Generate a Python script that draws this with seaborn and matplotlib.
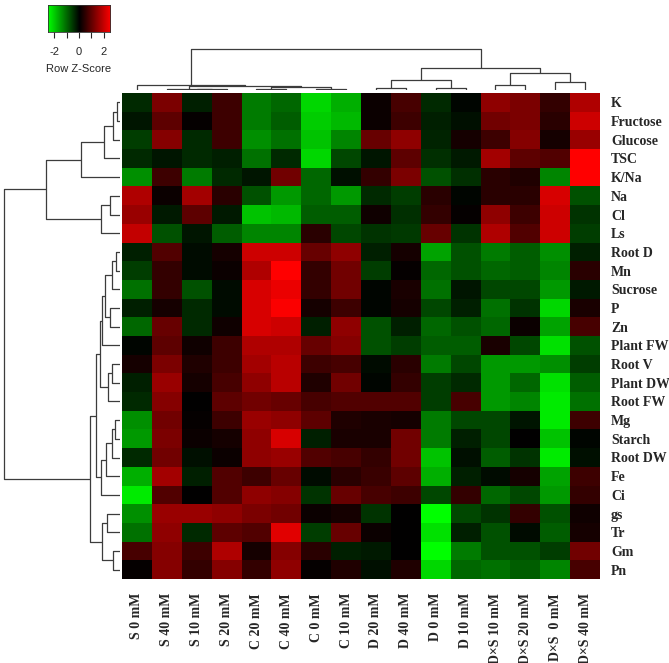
import numpy as np
import pandas as pd
import matplotlib.pyplot as plt
from matplotlib.colors import LinearSegmentedColormap
import seaborn as sns

sns.set_style('white')

samples = ['S 0 mM', 'S 40 mM', 'S 10 mM', 'S 20 mM', 'C 20 mM', 'C 40 mM',
           'C 0 mM', 'C 10 mM', 'D 20 mM', 'D 40 mM', 'D 0 mM', 'D 10 mM',
           'D×S 10 mM', 'D×S 20 mM', 'D×S  0 mM', 'D×S 40 mM']

# row z-scores, one block per row cluster
ions_sugars = ['K', 'Fructose', 'Glucose', 'TSC', 'K/Na', 'Na', 'Cl', 'Ls']
ions_sugars_z = [
    [-0.4, 1.2, -0.3, 0.6, -1.2, -1.0, -2.1, -1.7, 0.1, 0.7, -0.4, -0.05, 1.4, 1.2, 0.5, 1.7],
    [-0.2, 0.9, 0.05, 0.6, -1.2, -0.9, -2.0, -1.8, 0.1, 0.6, -0.3, -0.15, 1.1, 1.2, 0.4, 2.0],
    [-0.6, 1.3, -0.4, 0.6, -1.4, -1.1, -1.9, -1.3, 1.0, 1.4, -0.35, 0.2, 0.6, 1.3, 0.2, 1.5],
    [-0.4, -0.2, -0.4, -0.3, -1.1, -0.4, -2.1, -0.7, -0.2, 0.9, -0.45, -0.25, 1.6, 0.9, 0.8, 2.5],
    [-1.4, 0.6, -1.2, -0.4, -0.2, 1.1, -1.0, -0.15, 0.5, 1.2, -0.8, -0.45, 0.4, 0.3, -1.3, 2.5],
    [1.7, 0.1, 1.6, 0.4, -0.8, -1.5, -1.0, -1.5, -0.4, -0.6, 0.4, -0.05, 0.4, 0.4, 2.1, -0.8],
    [1.5, -0.25, 0.9, -0.25, -1.9, -1.8, -0.9, -0.9, 0.15, -0.45, 0.5, 0.05, 1.4, 0.6, 2.0, -0.5],
    [1.9, -0.8, -0.2, -0.9, -1.3, -1.3, 0.4, -0.7, -0.5, -0.55, 1.0, -0.5, 1.7, 0.8, 2.0, -0.6],
]
growth = ['Root D', 'Mn', 'Sucrose', 'P', 'Zn', 'Plant FW', 'Root V', 'Plant DW', 'Root FW']
growth_z = [
    [-0.3, 0.8, -0.1, 0.2, 2.0, 2.0, 1.0, 1.4, -0.3, 0.2, -1.6, -0.8, -1.2, -0.9, -1.4, -0.3],
    [-0.6, 0.5, -0.1, 0.1, 1.7, 2.5, 0.5, 1.1, -0.6, 0.05, -1.0, -0.8, -1.0, -0.9, -1.3, 0.4],
    [-1.1, 0.5, -0.8, -0.1, 2.1, 2.3, 0.5, 1.1, -0.05, 0.25, -1.1, -0.2, -0.7, -0.7, -1.5, -0.25],
    [-0.3, 0.2, -0.4, -0.1, 2.1, 2.45, 0.2, 0.6, -0.05, 0.2, -0.7, -0.3, -1.1, -0.5, -2.1, 0.25],
    [-1.0, 1.0, -0.4, 0.15, 2.1, 2.0, -0.3, 1.4, -0.8, -0.3, -1.0, -0.8, -1.0, 0.1, -1.6, 0.7],
    [-0.05, 0.9, 0.15, 0.6, 1.7, 1.7, 1.0, 1.3, -0.8, -0.6, -0.9, -0.9, 0.25, -0.7, -2.2, -0.8],
    [0.2, 1.2, 0.3, 0.6, 1.6, 1.8, 0.6, 0.7, -0.1, 0.4, -1.2, -0.7, -1.5, -1.5, -1.4, -0.6],
    [-0.3, 1.5, 0.2, 0.7, 1.4, 1.8, 0.3, 1.1, -0.05, 0.5, -0.6, -0.4, -1.5, -1.0, -2.2, -0.9],
    [-0.4, 1.3, 0.0, 0.9, 1.1, 1.0, 0.7, 0.8, 0.8, 0.8, -0.6, 0.7, -1.5, -1.3, -2.3, -1.1],
]
minerals = ['Mg', 'Starch', 'Root DW', 'Fe', 'Ci']
minerals_z = [
    [-1.4, 1.1, 0.05, 0.6, 1.5, 1.4, 0.9, 0.3, 0.25, 0.2, -1.2, -0.7, -0.7, -0.2, -2.3, 0.6],
    [-1.5, 1.2, 0.1, 0.2, 1.4, 2.1, -0.3, 0.25, 0.25, 1.1, -1.2, -0.3, -0.7, 0.0, -1.9, -0.05],
    [-0.4, 1.1, -0.15, 0.1, 1.4, 1.5, 0.8, 0.7, 0.5, 1.1, -1.9, -0.15, -0.9, -0.5, -2.3, -0.15],
    [-1.7, 1.6, -0.3, 0.8, 0.6, 1.0, -0.1, 0.4, 0.55, 0.9, -1.7, -0.3, -0.1, 0.2, -1.6, 0.6],
    [-2.3, 0.8, 0.0, 0.8, 1.4, 1.3, -0.5, 1.0, 0.7, 0.6, -0.7, 0.5, -1.0, -0.7, -1.5, 0.5],
]
gas_exchange = ['gs', 'Tr', 'Gm', 'Pn']
gas_exchange_z = [
    [-1.4, 1.5, 1.5, 1.4, 1.2, 1.1, 0.1, 0.2, -0.5, 0.0, -2.5, -0.7, -0.5, 0.5, -0.8, 0.15],
    [-1.1, 1.4, -0.4, 0.9, 0.8, 2.2, -0.6, 1.0, 0.1, 0.0, -2.2, -0.3, -0.8, -0.1, -0.9, 0.2],
    [0.7, 1.3, 0.6, 1.7, 0.2, 1.3, 0.4, -0.3, -0.25, 0.0, -2.5, -1.2, -0.8, -0.8, -0.6, 1.1],
    [0.05, 1.3, 0.5, 1.3, 0.5, 1.4, 0.05, 0.3, -0.15, 0.3, -2.1, -1.0, -1.1, -0.9, -1.3, 0.7],
]

# dendrogram merges: (left child, right child, height); ints point to earlier merges
row_links = [
    ('K', 'Fructose', 3), (0, 'Glucose', 7), (1, 'TSC', 16), (2, 'K/Na', 39),
    ('Na', 'Cl', 10), (4, 'Ls', 19), (3, 5, 74),
    ('Root D', 'Mn', 4), (7, 'Sucrose', 8), ('P', 'Zn', 10), (8, 9, 15),
    (10, 'Plant FW', 18), ('Root V', 'Plant DW', 8), (12, 'Root FW', 12),
    (11, 13, 20),
    ('Mg', 'Starch', 5), (15, 'Root DW', 8), (16, 'Fe', 14), (17, 'Ci', 19),
    (14, 18, 24),
    ('gs', 'Tr', 13), ('Gm', 'Pn', 7), (20, 21, 18), (19, 22, 30),
    (6, 23, 116),
]
col_links = [
    ('S 10 mM', 'S 20 mM', 0.7), ('S 40 mM', 0, 1.5),
    ('C 20 mM', 'C 40 mM', 1.2), ('C 0 mM', 'C 10 mM', 1.5), (2, 3, 2.7),
    (1, 4, 4), ('S 0 mM', 5, 5),
    ('D 20 mM', 'D 40 mM', 2.3), ('D 0 mM', 'D 10 mM', 2.3), (7, 8, 10),
    ('D×S 10 mM', 'D×S 20 mM', 5), ('D×S  0 mM', 'D×S 40 mM', 8.3), (10, 11, 16.7),
    (9, 12, 21.7), (6, 13, 40.7),
]

traits = ions_sugars + growth + minerals + gas_exchange
df = pd.DataFrame(ions_sugars_z + growth_z + minerals_z + gas_exchange_z,
                  index=traits, columns=samples)

W, H = 669, 663


def box(x, y, w, h):
    return [x / W, 1 - (y + h) / H, w / W, h / H]


def draw_tree(ax, links, leaves, side):
    pos = {name: i + 0.5 for i, name in enumerate(leaves)}
    node_pos, node_h = [], []
    for a, b, h in links:
        pa = node_pos[a] if isinstance(a, int) else pos[a]
        pb = node_pos[b] if isinstance(b, int) else pos[b]
        ha = node_h[a] if isinstance(a, int) else 0
        hb = node_h[b] if isinstance(b, int) else 0
        xs, ys = [pa, pa, pb, pb], [ha, h, h, hb]
        if side == 'top':
            ax.plot(xs, ys, color='#3c3c3c', lw=0.9, solid_capstyle='butt')
        else:
            ax.plot(ys, xs, color='#3c3c3c', lw=0.9, solid_capstyle='butt')
        node_pos.append((pa + pb) / 2)
        node_h.append(h)
    ax.axis('off')


cmap = LinearSegmentedColormap.from_list('redgreen', ['#00ff00', '#000000', '#ff0000'])
label_font = dict(family='Liberation Serif', weight='bold', size=10)

fig = plt.figure(figsize=(6.69, 6.63), dpi=100)

ax = fig.add_axes(box(122, 93, 478, 486))
sns.heatmap(df, ax=ax, cmap=cmap, vmin=-2.5, vmax=2.5, cbar=False,
            xticklabels=True, yticklabels=True)
ax.yaxis.tick_right()
ax.set_yticklabels(traits, rotation=0, ha='left', **label_font)
ax.set_xticklabels(samples, rotation=90, va='top', **label_font)
ax.tick_params(axis='y', length=0, pad=8)
ax.tick_params(axis='x', length=0, pad=10)
ax.set_xlabel('')
ax.set_ylabel('')

ax_row = fig.add_axes(box(0, 93, 120, 486))
draw_tree(ax_row, row_links, traits, 'left')
ax_row.set_xlim(120, 0)
ax_row.set_ylim(len(traits), 0)

ax_col = fig.add_axes(box(122, 45, 478, 45))
draw_tree(ax_col, col_links, samples, 'top')
ax_col.set_xlim(0, len(samples))
ax_col.set_ylim(0, 45)

# colour key
ax_key = fig.add_axes(box(48, 5, 62, 27))
grad = np.linspace(-2.5, 2.5, 256)
ax_key.imshow(grad[np.newaxis, :], cmap=cmap, vmin=-2.5, vmax=2.5,
              extent=(-2.5, 2.5, 0, 1), aspect='auto')
ax_key.set_yticks([])
ax_key.set_xticks([-2, -1, 0, 1, 2])
ax_key.set_xticklabels(['-2', '', '0', '', '2'], family='Liberation Sans', size=8)
ax_key.tick_params(axis='x', direction='out', length=4, width=0.8, pad=7,
                   bottom=True)
ax_key.set_xlabel('Row Z-Score', family='Liberation Sans', size=8, labelpad=5)
for s in ax_key.spines.values():
    s.set_linewidth(0.6)
    s.set_color('#333333')

fig.savefig('out.png', dpi=100)
